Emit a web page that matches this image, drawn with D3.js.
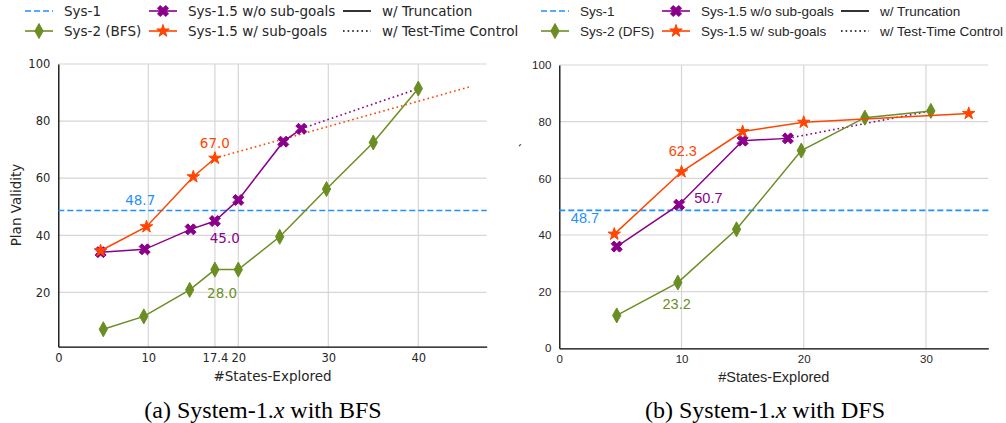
<!DOCTYPE html>
<html>
<head>
<meta charset="utf-8">
<script src="https://cdn.jsdelivr.net/npm/d3@7"></script>
<style>
  body { margin: 0; background: #fff; }
  svg { display: block; }
</style>
</head>
<body>
<svg id="chart" width="1006" height="423"></svg>
<script>
// ---- data ----
// (a) BFS
var bfsSys1 = 48.7
var bfsSys2X = [5, 9.5, 14.6, 17.4, 20, 24.6, 29.8, 35, 40]
var bfsSys2Y = [7.1, 11.6, 20.9, 28.0, 28.0, 39.5, 56.2, 72.5, 91.4]
var bfsNoSubX = [4.7, 9.6, 14.7, 17.4, 20, 25, 27]
var bfsNoSubY = [34.1, 35.1, 42.1, 45.0, 52.4, 72.8, 77.3]
var bfsNoSubCtrlX = [27, 40]
var bfsNoSubCtrlY = [77.3, 91.4]
var bfsSubX = [4.7, 9.8, 15, 17.4]
var bfsSubY = [34.6, 43.0, 60.5, 67.0]
var bfsSubCtrlX = [17.4, 45.7]
var bfsSubCtrlY = [67.0, 92.0]
var bfsXTicks = [0, 10, 17.4, 20, 30, 40]
var bfsYTicks = [20, 40, 60, 80, 100]

// (b) DFS
var dfsSys1 = 48.7
var dfsSys2X = [4.7, 9.7, 14.5, 19.8, 25, 30.4]
var dfsSys2Y = [11.6, 23.2, 42.0, 69.8, 81.4, 83.8]
var dfsNoSubX = [4.7, 9.8, 15, 18.7]
var dfsNoSubY = [35.9, 50.7, 73.3, 74.1]
var dfsNoSubCtrlX = [18.7, 30.4]
var dfsNoSubCtrlY = [74.1, 83.8]
var dfsSubX = [4.5, 10, 15, 20, 33.5]
var dfsSubY = [40.3, 62.3, 76.5, 79.8, 82.9]
var dfsXTicks = [0, 10, 20, 30]
var dfsYTicks = [0, 20, 40, 60, 80, 100]

var cBlue = "#1e90ff", cGreen = "#6b8e23", cPurple = "#8b008b", cOrange = "#ff4500"

var svg = d3.select("#chart")

// marker shapes
function xPath(r) {
  var w = r * 0.5
  var pts = [[0,-w],[r-w,-r],[r,-r+w],[w,0],[r,r-w],[r-w,r],[0,w],[-r+w,r],[-r,r-w],[-w,0],[-r,-r+w],[-r+w,-r]]
  return "M" + pts.map(function(p){ return p.join(",") }).join("L") + "Z"
}
function diamondPath(r) {
  return "M0," + (-r) + "L" + (r*0.55) + ",0L0," + r + "L" + (-r*0.55) + ",0Z"
}
var starPath = d3.symbol().type(d3.symbolStar).size(48)()

function toPts(xs, ys) { return xs.map(function(x, i){ return [x, ys[i]] }) }

function drawPanel(cfg) {
  var x = d3.scaleLinear().domain(cfg.xDomain).range([cfg.left, cfg.right])
  var y = d3.scaleLinear().domain(cfg.yDomain).range([cfg.bottom, cfg.top])
  var g = svg.append("g").style("font-family", cfg.font)

  // grid
  g.selectAll(".hg").data(cfg.yTicks.filter(function(d){ return d > cfg.yDomain[0] })).enter()
    .append("line")
    .attr("x1", cfg.left).attr("x2", cfg.right)
    .attr("y1", function(d){ return y(d) }).attr("y2", function(d){ return y(d) })
    .attr("stroke", "#d6d6d6").attr("stroke-width", 1.2)
  g.selectAll(".vg").data(cfg.xTicks.filter(function(d){ return d > 0 })).enter()
    .append("line")
    .attr("y1", cfg.top).attr("y2", cfg.bottom)
    .attr("x1", function(d){ return x(d) }).attr("x2", function(d){ return x(d) })
    .attr("stroke", "#d6d6d6").attr("stroke-width", 1.2)

  // axes
  var xAxis = g.append("g").attr("transform", "translate(0," + cfg.bottom + ")")
    .call(d3.axisBottom(x).tickValues(cfg.xTicks).tickSize(0).tickPadding(7)
      .tickFormat(function(d){ return d3.format("")(d) }))
  var yAxis = g.append("g").attr("transform", "translate(" + cfg.left + ",0)")
    .call(d3.axisLeft(y).tickValues(cfg.yTicks).tickSize(0).tickPadding(8))
  ;[xAxis, yAxis].forEach(function(a){
    a.select(".domain").attr("stroke", "#000").attr("stroke-width", 1.3)
    a.selectAll("text").attr("fill", "#262626").style("font-size", "11.5px").style("font-family", cfg.font)
  })

  g.append("text").attr("x", (cfg.left + cfg.right) / 2).attr("y", cfg.bottom + 34)
    .attr("text-anchor", "middle").attr("fill", "#262626").style("font-size", cfg.labelSize)
    .text("#States-Explored")
  g.append("text").attr("transform", "translate(" + cfg.yLabelX + "," + cfg.yLabelY + ") rotate(-90)")
    .attr("text-anchor", "middle").attr("fill", "#262626").style("font-size", cfg.labelSize)
    .text(cfg.yLabel)

  var line = d3.line().x(function(d){ return x(d[0]) }).y(function(d){ return y(d[1]) })

  // sys-1 baseline
  g.append("line").attr("x1", cfg.left).attr("x2", cfg.right)
    .attr("y1", y(cfg.sys1)).attr("y2", y(cfg.sys1))
    .attr("stroke", cBlue).attr("stroke-width", 1.6).attr("stroke-dasharray", "6,3")

  // dotted test-time control lines
  cfg.dotted.forEach(function(s){
    g.append("path").attr("d", line(s.pts)).attr("fill", "none")
      .attr("stroke", s.color).attr("stroke-width", 1.6).attr("stroke-dasharray", "1.6,3")
  })

  cfg.series.forEach(function(s){
    g.append("path").attr("d", line(s.pts)).attr("fill", "none")
      .attr("stroke", s.color).attr("stroke-width", 1.5)
    g.selectAll(null).data(s.pts).enter().append("path")
      .attr("d", s.marker)
      .attr("transform", function(d){ return "translate(" + x(d[0]) + "," + y(d[1]) + ")" })
      .attr("fill", s.color).attr("stroke", s.color).attr("stroke-width", 1)
  })

  cfg.labels.forEach(function(l){
    g.append("text").attr("x", x(l.x)).attr("y", y(l.y)).attr("text-anchor", "middle")
      .attr("fill", l.color).style("font-size", cfg.annoSize).text(l.text)
  })

  // legend
  var lg = g.append("g").style("font-size", "13.5px")
  cfg.legend.forEach(function(e){
    var ly = e.row === 0 ? 11 : 31
    var it = lg.append("g").attr("transform", "translate(" + e.x + "," + ly + ")")
    it.append("line").attr("x1", 0).attr("x2", 28).attr("stroke", e.color)
      .attr("stroke-width", 1.6).attr("stroke-dasharray", e.dash || null)
    if (e.marker) it.append("path").attr("d", e.marker).attr("transform", "translate(14,0)")
      .attr("fill", e.color).attr("stroke", e.color)
    it.append("text").attr("x", 39).attr("y", 4.5).attr("fill", "#262626").text(e.text)
  })

  svg.append("text").attr("x", cfg.captionX).attr("y", 418).attr("text-anchor", "middle")
    .style("font-family", "'Liberation Serif', 'Times New Roman', serif").style("font-size", "24px")
    .attr("fill", "#000")
    .html(cfg.caption)
}

drawPanel({
  font: "'DejaVu Sans', sans-serif", labelSize: "13.5px", annoSize: "13.5px",
  left: 58.3, right: 486.7, top: 64, bottom: 346.7,
  xDomain: [0, 47.6], yDomain: [1, 100],
  xTicks: bfsXTicks, yTicks: bfsYTicks,
  yLabel: "Plan Validity", yLabelX: 21, yLabelY: 205,
  sys1: bfsSys1,
  dotted: [
    { pts: toPts(bfsNoSubCtrlX, bfsNoSubCtrlY), color: cPurple },
    { pts: toPts(bfsSubCtrlX, bfsSubCtrlY), color: cOrange }
  ],
  series: [
    { pts: toPts(bfsSys2X, bfsSys2Y), color: cGreen, marker: diamondPath(7.5) },
    { pts: toPts(bfsNoSubX, bfsNoSubY), color: cPurple, marker: xPath(5.5) },
    { pts: toPts(bfsSubX, bfsSubY), color: cOrange, marker: starPath }
  ],
  labels: [
    { x: 17.4, y: 70.5, text: "67.0", color: cOrange },
    { x: 9.1, y: 50.5, text: "48.7", color: cBlue },
    { x: 18.5, y: 37.3, text: "45.0", color: cPurple },
    { x: 18.2, y: 18, text: "28.0", color: cGreen }
  ],
  legend: [
    { x: 25, row: 0, color: cBlue, dash: "6,3", text: "Sys-1" },
    { x: 25, row: 1, color: cGreen, marker: diamondPath(7.5), text: "Sys-2 (BFS)" },
    { x: 149, row: 0, color: cPurple, marker: xPath(5.5), text: "Sys-1.5 w/o sub-goals" },
    { x: 149, row: 1, color: cOrange, marker: starPath, text: "Sys-1.5 w/ sub-goals" },
    { x: 343, row: 0, color: "#000", text: "w/ Truncation" },
    { x: 343, row: 1, color: "#000", dash: "1.6,3", text: "w/ Test-Time Control" }
  ],
  captionX: 263,
  caption: "(a) System-1.<tspan font-style='italic'>x</tspan> with BFS"
})

drawPanel({
  font: "'Liberation Sans', Arial, sans-serif", labelSize: "14.5px", annoSize: "14.5px",
  left: 559.3, right: 988.3, top: 65, bottom: 348.3,
  xDomain: [0, 35.1], yDomain: [0, 100],
  xTicks: dfsXTicks, yTicks: dfsYTicks,
  yLabel: "`", yLabelX: 530, yLabelY: 145,
  sys1: dfsSys1,
  dotted: [
    { pts: toPts(dfsNoSubCtrlX, dfsNoSubCtrlY), color: cPurple }
  ],
  series: [
    { pts: toPts(dfsSys2X, dfsSys2Y), color: cGreen, marker: diamondPath(7.5) },
    { pts: toPts(dfsNoSubX, dfsNoSubY), color: cPurple, marker: xPath(5.5) },
    { pts: toPts(dfsSubX, dfsSubY), color: cOrange, marker: starPath }
  ],
  labels: [
    { x: 10.1, y: 68, text: "62.3", color: cOrange },
    { x: 12.2, y: 51.3, text: "50.7", color: cPurple },
    { x: 2.1, y: 44.2, text: "48.7", color: cBlue },
    { x: 9.6, y: 13.7, text: "23.2", color: cGreen }
  ],
  legend: [
    { x: 541, row: 0, color: cBlue, dash: "6,3", text: "Sys-1" },
    { x: 541, row: 1, color: cGreen, marker: diamondPath(7.5), text: "Sys-2 (DFS)" },
    { x: 662, row: 0, color: cPurple, marker: xPath(5.5), text: "Sys-1.5 w/o sub-goals" },
    { x: 662, row: 1, color: cOrange, marker: starPath, text: "Sys-1.5 w/ sub-goals" },
    { x: 841, row: 0, color: "#000", text: "w/ Truncation" },
    { x: 841, row: 1, color: "#000", dash: "1.6,3", text: "w/ Test-Time Control" }
  ],
  captionX: 765,
  caption: "(b) System-1.<tspan font-style='italic'>x</tspan> with DFS"
})
</script>
</body>
</html>
